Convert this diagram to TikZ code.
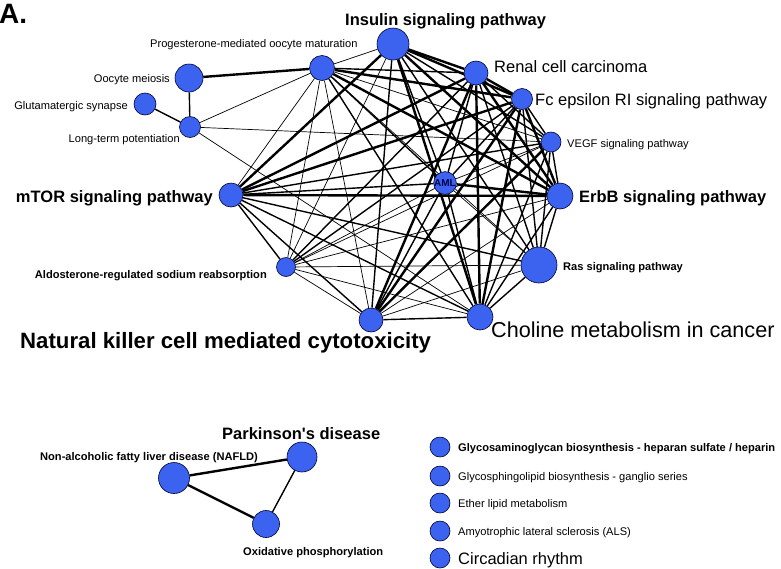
\documentclass[tikz,border=0pt]{standalone}
\usepackage{fontspec}
\setmainfont{Liberation Sans}[Ligatures=TeXOff]
\usetikzlibrary{backgrounds}
\definecolor{nodeblue}{RGB}{59,99,240}
\begin{document}
\begin{tikzpicture}[x=1pt,y=-1pt,
    pw/.style={circle, draw=black!80!blue, fill=nodeblue, line width=0.6pt, inner sep=0pt, minimum size=#1},
    txts/.style={inner sep=0pt, font=\fontsize{11.1}{13}\selectfont},
    txtsb/.style={inner sep=0pt, font=\fontsize{11.1}{13}\selectfont\bfseries},
    txtm/.style={inner sep=0pt, font=\fontsize{16.5}{19}\selectfont},
    txtmb/.style={inner sep=0pt, font=\fontsize{16.5}{19}\selectfont\bfseries},
    txtl/.style={inner sep=0pt, font=\fontsize{21.6}{26}\selectfont},
    txtlb/.style={inner sep=0pt, font=\fontsize{22.2}{26}\selectfont\bfseries},
    w1/.style={line width=0.7pt},
    w2/.style={line width=1.4pt},
    w3/.style={line width=2.4pt}]
  \useasboundingbox (0,0) rectangle (781,568);
  \node[inner sep=0pt, anchor=base west, font=\fontsize{28}{32}\selectfont\bfseries] (panel) at (-1,23) {A.};

  \node[pw=32] (ins) at (393,44) {};
  \node[pw=25] (prog) at (322,68) {};
  \node[pw=28] (ooc) at (189,78) {};
  \node[pw=22] (glu) at (145,104) {};
  \node[pw=21] (ltp) at (190,127) {};
  \node[pw=24] (mtor) at (231,195) {};
  \node[pw=19] (aldo) at (286,267) {};
  \node[pw=24] (nk) at (371,320) {};
  \node[pw=26] (chol) at (480,317) {};
  \node[pw=36] (ras) at (539,265) {};
  \node[pw=26] (erbb) at (560,196) {};
  \node[pw=20] (vegf) at (551,142) {};
  \node[pw=21] (fc) at (522,99) {};
  \node[pw=24] (renal) at (476,73) {};
  \node[pw=21, font=\fontsize{10}{12}\selectfont\bfseries, text=black!70!blue] (aml) at (445,183) {AML};

  \node[pw=31] (nafld) at (174,478) {};
  \node[pw=30] (park) at (302,457) {};
  \node[pw=27] (oxph) at (266,524) {};

  \begin{scope}[on background layer]
    \foreach \a/\b/\w in {ins/prog/1, ins/renal/3, ins/fc/3, ins/vegf/2, ins/erbb/3, ins/ras/2,
        ins/chol/3, ins/nk/2, ins/aldo/1, ins/mtor/3, ins/aml/2,
        prog/renal/2, prog/fc/3, prog/vegf/1, prog/erbb/3, prog/ras/1, prog/chol/2,
        prog/nk/1, prog/aldo/1, prog/mtor/1, prog/aml/2,
        renal/fc/3, renal/vegf/2, renal/erbb/3, renal/ras/2, renal/chol/3, renal/nk/3,
        renal/aldo/2, renal/mtor/3, renal/aml/2,
        fc/vegf/2, fc/erbb/3, fc/ras/2, fc/chol/3, fc/nk/3, fc/aldo/2, fc/mtor/3, fc/aml/2,
        vegf/erbb/2, vegf/ras/2, vegf/chol/2, vegf/nk/3, vegf/aldo/1, vegf/mtor/2, vegf/aml/1,
        erbb/ras/2, erbb/chol/2, erbb/nk/1, erbb/aldo/1, erbb/mtor/3, erbb/aml/3,
        ras/chol/2, ras/nk/1, ras/aldo/1, ras/mtor/2, ras/aml/1,
        chol/nk/2, chol/aldo/1, chol/mtor/2, chol/aml/2,
        nk/aldo/1, nk/mtor/2, nk/aml/2, aldo/mtor/2, aldo/aml/1, mtor/aml/2,
        ltp/ooc/2, ltp/glu/2, ooc/prog/3, ltp/prog/1, ltp/vegf/1, ltp/chol/1,
        nafld/park/3, nafld/oxph/3, park/oxph/2}
      \draw[w\w] (\a) -- (\b);
  \end{scope}

  \node[txtmb, anchor=base west] (ins-t) at (345,25) {Insulin signaling pathway};
  \node[txts, anchor=base west] (prog-t) at (150,47) {Progesterone-mediated oocyte maturation};
  \node[txts, anchor=base east] (ooc-t) at (170,82) {Oocyte meiosis};
  \node[txts, anchor=base east] (glu-t) at (128,109) {Glutamatergic synapse};
  \node[txts, anchor=base east] (ltp-t) at (180,142) {Long-term potentiation};
  \node[txtmb, anchor=base east] (mtor-t) at (213,202) {mTOR signaling pathway};
  \node[txtsb, anchor=base east] (aldo-t) at (267,278) {Aldosterone-regulated sodium reabsorption};
  \node[txtlb, anchor=base west] (nk-t) at (20,348) {Natural killer cell mediated cytotoxicity};
  \node[txtl, anchor=base west] (chol-t) at (491,337) {Choline metabolism in cancer};
  \node[txtsb, anchor=base west] (ras-t) at (563,270) {Ras signaling pathway};
  \node[txtmb, anchor=base west] (erbb-t) at (579,202) {ErbB signaling pathway};
  \node[txts, anchor=base west] (vegf-t) at (567,147) {VEGF signaling pathway};
  \node[txtm, anchor=base west] (fc-t) at (535,105) {Fc epsilon RI signaling pathway};
  \node[txtm, anchor=base west] (renal-t) at (494,72) {Renal cell carcinoma};

  \node[txtmb, anchor=base west] (park-t) at (222,439) {Parkinson's disease};
  \node[txtsb, anchor=base west] (nafld-t) at (40,460) {Non-alcoholic fatty liver disease (NAFLD)};
  \node[txtsb, anchor=base west] (oxph-t) at (243,555) {Oxidative phosphorylation};

  \node[pw=20] (gag) at (440,447) {};
  \node[pw=20] (gsl) at (440,476) {};
  \node[pw=20] (ether) at (440,503) {};
  \node[pw=20] (als) at (440,531) {};
  \node[pw=20] (circ) at (440,558) {};
  \node[txtsb, anchor=base west] (gag-t) at (458,451) {Glycosaminoglycan biosynthesis - heparan sulfate / heparin};
  \node[txts, anchor=base west] (gsl-t) at (458,480) {Glycosphingolipid biosynthesis - ganglio series};
  \node[txts, anchor=base west] (ether-t) at (458,507) {Ether lipid metabolism};
  \node[txts, anchor=base west] (als-t) at (458,535) {Amyotrophic lateral sclerosis (ALS)};
  \node[txtm, anchor=base west] (circ-t) at (458,564) {Circadian rhythm};
\end{tikzpicture}
\end{document}
